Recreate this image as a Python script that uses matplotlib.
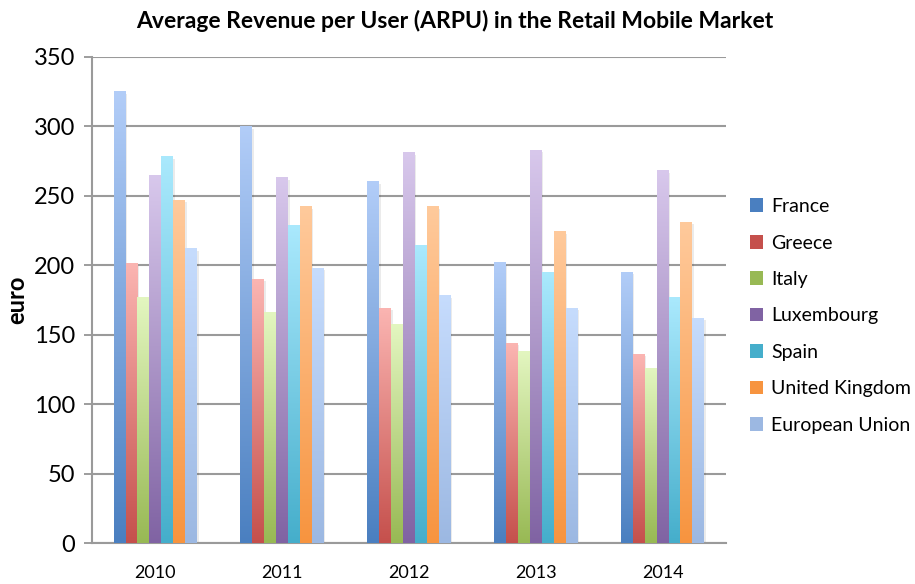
import matplotlib
matplotlib.use("Agg")
import matplotlib.pyplot as plt
import numpy as np
from matplotlib.colors import LinearSegmentedColormap
from matplotlib.patches import Patch

plt.rcParams['font.family'] = ['Lato', 'DejaVu Sans']

years = ['2010', '2011', '2012', '2013', '2014']
france = [325, 300, 260, 202, 195]
greece = [201, 190, 169, 144, 136]
italy = [177, 166, 157, 138, 126]
luxembourg = [265, 263, 281, 283, 268]
spain = [278, 229, 214, 195, 177]
uk = [247, 242, 242, 224, 231]
eu = [212, 198, 178, 169, 162]

series = [
    ('France', france, '#4A7FC0', '#B2CDF8'),
    ('Greece', greece, '#C5504C', '#FBB5B2'),
    ('Italy', italy, '#98B954', '#E3F6C0'),
    ('Luxembourg', luxembourg, '#8063A3', '#D8C8EC'),
    ('Spain', spain, '#45AECB', '#AAE9FD'),
    ('United Kingdom', uk, '#F7943F', '#FFCA9C'),
    ('European Union', eu, '#9CB8E2', '#C6DCFD'),
]

fig = plt.figure(figsize=(9.15, 5.84), dpi=100)
ax = fig.add_axes([0.1005, 0.0702, 0.6929, 0.8322])

x = np.arange(len(years))
width = 0.094
n = len(series)
grad = np.linspace(1, 0, 256).reshape(-1, 1)

for i, (name, vals, dark, light) in enumerate(series):
    offs = (i - (n - 1) / 2) * width
    bars = ax.bar(x + offs, vals, width, color='none', edgecolor='none', zorder=3)
    cmap = LinearSegmentedColormap.from_list(name, [dark, light])
    for b in bars:
        x0, h, w = b.get_x(), b.get_height(), b.get_width()
        # soft shadow
        ax.bar(x0 + w / 2 + 0.012, h - 1.5, w, bottom=0, color='#000000', alpha=0.08,
               edgecolor='none', zorder=2.5)
        ax.imshow(grad, extent=[x0, x0 + w, 0, h], aspect='auto', cmap=cmap,
                  origin='upper', zorder=3, interpolation='bicubic')

ax.set_xlim(-0.5, len(years) - 0.5)
ax.set_ylim(0, 350)
ax.set_yticks(range(0, 351, 50))
ax.set_xticks(x)
ax.set_xticklabels(years, fontsize=13)
ax.tick_params(axis='y', labelsize=17, length=6, color='#8C8C8C', width=1.2, pad=6)
ax.tick_params(axis='x', length=0, pad=16)
ax.grid(axis='y', color='#9A9A9A', linewidth=1.5, zorder=1)
ax.set_axisbelow(True)
for s in ['top', 'right']:
    ax.spines[s].set_visible(False)
for s in ['left', 'bottom']:
    ax.spines[s].set_color('#9A9A9A')
    ax.spines[s].set_linewidth(1.5)

ax.set_ylabel('euro', fontsize=17, fontweight='bold', labelpad=4)
fig.text(0.497, 0.964, 'Average Revenue per User (ARPU) in the Retail Mobile Market',
         ha='center', va='center', fontsize=16.5, fontweight='bold')

handles = [Patch(facecolor=d, edgecolor='none') for _, _, d, _ in series]
fig.legend(handles, [s[0] for s in series], loc='center left',
           bbox_to_anchor=(0.8, 0.459), frameon=False, fontsize=14,
           labelspacing=1.0, handlelength=0.7, handleheight=0.7, handletextpad=0.4)

fig.savefig('out.png', dpi=100)
